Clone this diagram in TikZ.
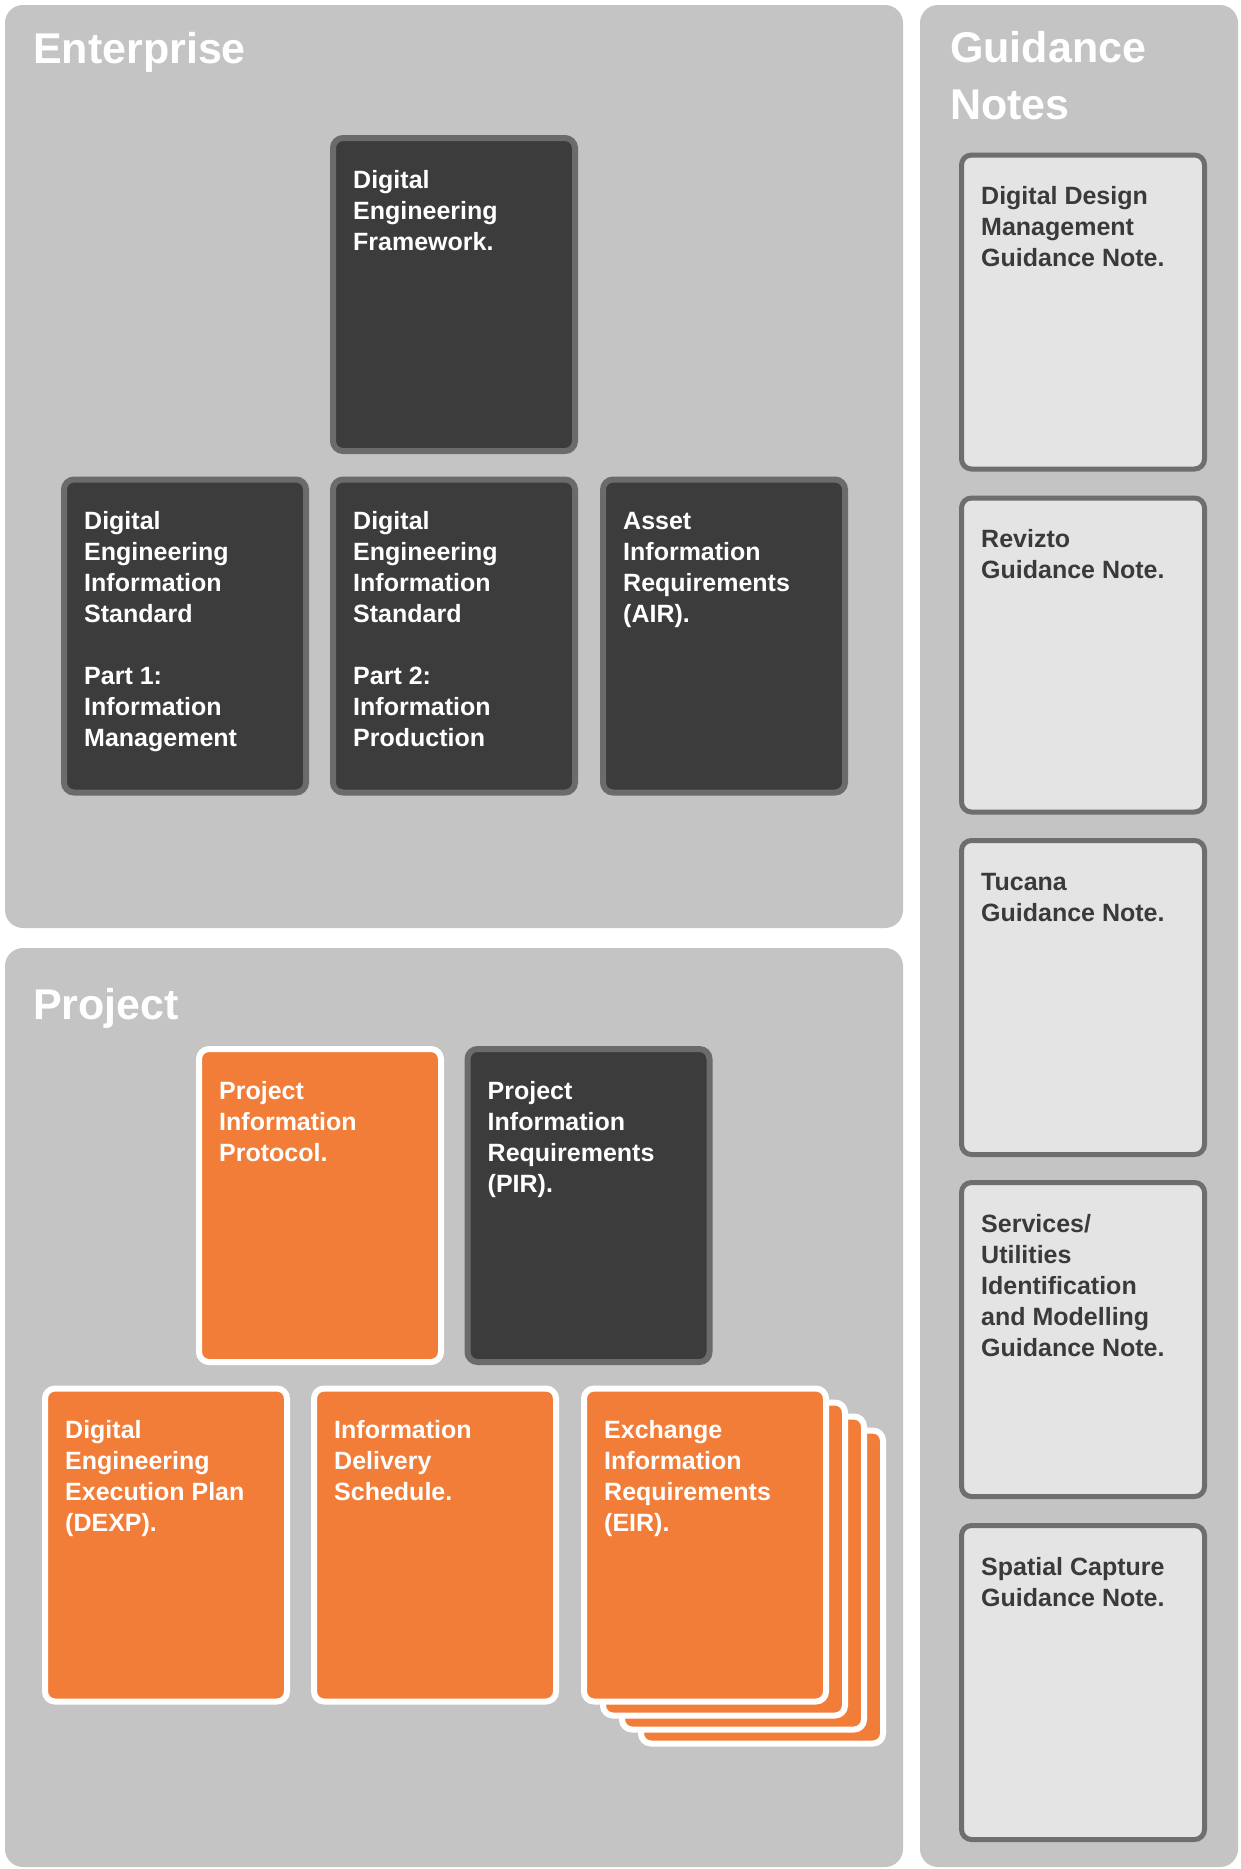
\documentclass[tikz,border=0pt]{standalone}
\usepackage{fontspec}
\setmainfont{Liberation Sans}
\definecolor{panelgray}{HTML}{C4C4C4}
\definecolor{dfill}{HTML}{3C3C3C}
\definecolor{dborder}{HTML}{6B6B6B}
\definecolor{ofill}{HTML}{F27D39}
\definecolor{nfill}{HTML}{E4E4E4}
\definecolor{nborder}{HTML}{6E6E6E}
\definecolor{ntext}{HTML}{3A3A3A}
\newcommand{\fl}{\rule{0pt}{19pt}}
\tikzset{
  panel/.style={fill=panelgray, draw=none, rounded corners=18pt, inner sep=0pt},
  title/.style={anchor=base west, inner sep=0pt, text=white, font=\fontsize{43}{57}\selectfont\bfseries, align=left},
  cardbase/.style={line width=6pt, rounded corners=10pt, minimum width=242pt, minimum height=313pt, inner sep=0pt},
  dcard/.style={cardbase, draw=dborder, fill=dfill},
  ocard/.style={cardbase, draw=white, fill=ofill},
  ncard/.style={cardbase, line width=5pt, minimum width=243pt, minimum height=314pt, draw=nborder, fill=nfill},
  ctext/.style={anchor=north west, inner sep=0pt, align=left, text=white, font=\fontsize{25}{31}\selectfont\bfseries},
  ntextst/.style={ctext, text=ntext},
}
\begin{document}
\begin{tikzpicture}[x=1pt,y=-1pt]
\useasboundingbox[fill=white] (0,0) rectangle (1240,1869);
% panels
\node[panel, minimum width=898pt, minimum height=923pt] (ent) at (454,466.5) {};
\node[panel, minimum width=898pt, minimum height=919pt] (proj) at (454,1407.5) {};
\node[panel, minimum width=318pt, minimum height=1862pt] (guid) at (1079,936) {};
\node[title] (entT) at (33,63) {Enterprise};
\node[title] (projT) at (33,1019) {Project};
\node[title, anchor=north west] (guidT) at (950,31) {\rule{0pt}{31pt}Guidance\\Notes};
% enterprise cards
\node[dcard] (def) at (454,294.5) {};
\node[dcard] (deis1) at (185,636) {};
\node[dcard] (deis2) at (454,636) {};
\node[dcard] (air) at (724,636) {};
\node[ctext] (defT) at ([xshift=23pt,yshift=-34pt]def.north west) {\fl Digital\\Engineering\\Framework.};
\node[ctext] (deis1T) at ([xshift=23pt,yshift=-34pt]deis1.north west) {\fl Digital\\Engineering\\Information\\Standard\\[31pt]Part 1:\\Information\\Management};
\node[ctext] (deis2T) at ([xshift=23pt,yshift=-34pt]deis2.north west) {\fl Digital\\Engineering\\Information\\Standard\\[31pt]Part 2:\\Information\\Production};
\node[ctext] (airT) at ([xshift=23pt,yshift=-34pt]air.north west) {\fl Asset\\Information\\Requirements\\(AIR).};
% project cards
\node[ocard] (pip) at (320,1205.5) {};
\node[dcard] (pir) at (588.5,1205.5) {};
\node[ocard] (dexp) at (166,1545) {};
\node[ocard] (ids) at (435,1545) {};
\node[ocard] (eir3) at (762,1587) {};
\node[ocard] (eir2) at (743,1573) {};
\node[ocard] (eir1) at (724,1559) {};
\node[ocard] (eir) at (705,1545) {};
\node[ctext] (pipT) at ([xshift=23pt,yshift=-34pt]pip.north west) {\fl Project\\Information\\Protocol.};
\node[ctext] (pirT) at ([xshift=23pt,yshift=-34pt]pir.north west) {\fl Project\\Information\\Requirements\\(PIR).};
\node[ctext] (dexpT) at ([xshift=23pt,yshift=-34pt]dexp.north west) {\fl Digital\\Engineering\\Execution Plan\\(DEXP).};
\node[ctext] (idsT) at ([xshift=23pt,yshift=-34pt]ids.north west) {\fl Information\\Delivery\\Schedule.};
\node[ctext] (eirT) at ([xshift=23pt,yshift=-34pt]eir.north west) {\fl Exchange\\Information\\Requirements\\(EIR).};
% guidance notes
\node[ncard] (n1) at (1083,312) {};
\node[ncard] (n2) at (1083,655) {};
\node[ncard] (n3) at (1083,997.5) {};
\node[ncard] (n4) at (1083,1339.5) {};
\node[ncard] (n5) at (1083,1682.5) {};
\node[ntextst] (n1T) at ([xshift=22pt,yshift=-33pt]n1.north west) {\fl Digital Design\\Management\\Guidance Note.};
\node[ntextst] (n2T) at ([xshift=22pt,yshift=-33pt]n2.north west) {\fl Revizto\\Guidance Note.};
\node[ntextst] (n3T) at ([xshift=22pt,yshift=-33pt]n3.north west) {\fl Tucana\\Guidance Note.};
\node[ntextst] (n4T) at ([xshift=22pt,yshift=-33pt]n4.north west) {\fl Services/\\Utilities\\Identification\\and Modelling\\Guidance Note.};
\node[ntextst] (n5T) at ([xshift=22pt,yshift=-33pt]n5.north west) {\fl Spatial Capture\\Guidance Note.};
\end{tikzpicture}
\end{document}
